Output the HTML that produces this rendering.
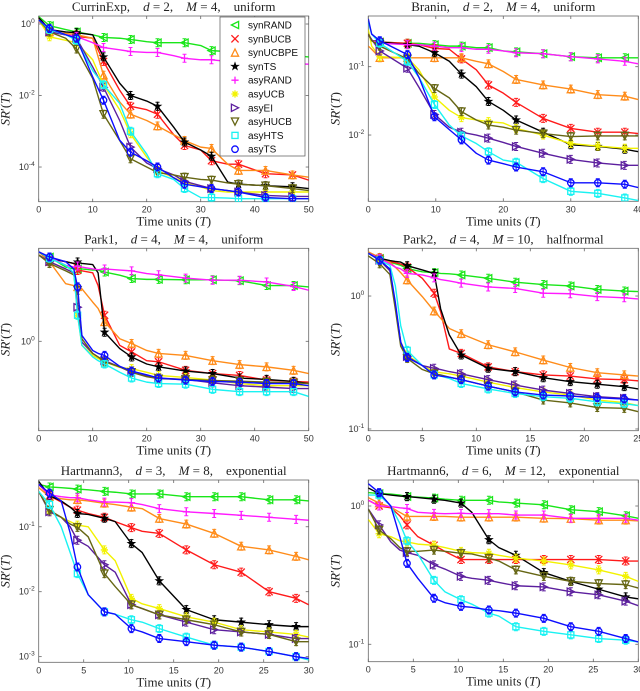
<!DOCTYPE html>
<html><head><meta charset="utf-8"><style>
html,body{margin:0;padding:0;background:#fff;width:640px;height:691px;overflow:hidden}
svg{display:block}
</style></head><body>
<svg id="fig" width="640" height="691" viewBox="0 0 640 691" xmlns="http://www.w3.org/2000/svg"></svg>
<script>
// ---------- Panel 1: CurrinExp ----------
const p1Times=[0,2,5,7,10,12,15,17,20,22,25,27,30,32,35,37,42,47,50];
const p1Marks=[2,7,12,17,22,27,32,37,42,47];
const p1synRAND=[1.6,0.9,0.7,0.6,0.5,0.42,0.4,0.37,0.32,0.3,0.3,0.3,0.25,0.18,0.17,0.16,0.14,0.13,0.12];
const p1synBUCB=[1.5,0.7,0.5,0.45,0.4,0.09,0.014,5e-3,4e-3,3e-3,8e-4,4e-4,3e-4,1.5e-4,1.2e-4,1.2e-4,6.5e-5,6e-5,4.3e-5];
const p1synUCBPE=[1.4,0.6,0.55,0.5,0.4,0.037,6.6e-3,3e-3,2e-3,1.4e-3,8e-4,5.5e-4,3.6e-4,3.3e-4,1.2e-4,8e-5,8e-5,6e-5,5.2e-5];
const p1synTS=[1.5,0.7,0.6,0.57,0.5,0.12,0.022,0.01,7e-3,5e-3,1.3e-3,5e-4,3e-4,2e-4,3.8e-5,3.3e-5,3e-5,2.8e-5,2.5e-5];
const p1asyRAND=[1.2,0.6,0.5,0.45,0.3,0.22,0.19,0.17,0.16,0.16,0.13,0.11,0.1,0.1,0.09,0.085,0.08,0.078,0.075];
const p1asyUCB=[1.3,0.44,0.35,0.3,0.1,0.02,4e-3,8.5e-4,1.9e-4,8e-5,5e-5,3.8e-5,2.8e-5,2.2e-5,2e-5,2e-5,2e-5,2e-5,2e-5];
const p1asyEI=[1.3,0.6,0.5,0.4,0.063,0.017,2e-3,3.6e-4,1.3e-4,9e-5,6e-5,4e-5,3e-5,2.5e-5,2.2e-5,2e-5,1.6e-5,1.5e-5,1.5e-5];
const p1asyHUCB=[1.3,0.6,0.4,0.2,0.03,3e-3,5.5e-4,1.7e-4,1e-4,7e-5,6e-5,5.2e-5,4.5e-5,4.3e-5,3.6e-5,3.3e-5,3e-5,2.5e-5,2.2e-5];
const p1asyHTS=[1.3,0.7,0.5,0.35,0.05,0.02,6e-3,1e-3,2.3e-4,6.5e-5,4.5e-5,2.5e-5,1.4e-5,1.4e-5,1.35e-5,1.3e-5,1.3e-5,1.3e-5,1.3e-5];
const p1asyTS=[1.3,0.75,0.5,0.4,0.033,7.4e-3,5.6e-4,2.6e-4,1.5e-4,1e-4,5e-5,3.3e-5,2.8e-5,2.5e-5,2.2e-5,2e-5,1.4e-5,1.3e-5,1.3e-5];
// ---------- Panel 2: Branin ----------
const p2Times=[0,0.5,1.7,5.8,7.5,9.8,12,13.8,16,17.8,20,21.9,25.9,30,34,38,40];
const p2Marks=[1.7,5.8,9.8,13.8,17.8,21.9,25.9,30,34,38];
const p2synRAND=[0.3,0.24,0.23,0.22,0.22,0.21,0.2,0.2,0.19,0.19,0.17,0.165,0.155,0.14,0.135,0.135,0.135];
const p2synBUCB=[0.3,0.24,0.23,0.22,0.21,0.185,0.18,0.13,0.09,0.054,0.041,0.03,0.0175,0.0125,0.011,0.011,0.0105];
const p2synUCBPE=[0.2,0.18,0.135,0.135,0.135,0.135,0.135,0.135,0.12,0.11,0.085,0.065,0.054,0.047,0.039,0.037,0.033];
const p2synTS=[0.3,0.24,0.23,0.21,0.2,0.16,0.12,0.078,0.051,0.031,0.023,0.0166,0.011,0.0072,0.0068,0.0062,0.0057];
const p2asyRAND=[0.3,0.24,0.22,0.21,0.21,0.2,0.19,0.19,0.18,0.18,0.17,0.16,0.155,0.14,0.13,0.12,0.11];
const p2asyUCB=[0.35,0.2,0.14,0.135,0.09,0.036,0.023,0.018,0.0166,0.0157,0.015,0.0125,0.01,0.0075,0.0069,0.0064,0.0064];
const p2asyEI=[0.3,0.25,0.17,0.095,0.05,0.02,0.013,0.011,0.01,0.009,0.0078,0.0068,0.0054,0.0044,0.0039,0.0036,0.0036];
const p2asyHUCB=[0.3,0.24,0.2,0.13,0.08,0.048,0.035,0.022,0.0166,0.014,0.013,0.0118,0.0105,0.0095,0.0097,0.0097,0.0097];
const p2asyTS=[0.5,0.3,0.24,0.15,0.07,0.0185,0.012,0.0085,0.0054,0.0043,0.0038,0.0034,0.0029,0.002,0.002,0.0019,0.0017];
const p2asyHTS=[0.45,0.3,0.22,0.12,0.07,0.028,0.014,0.0097,0.0075,0.0057,0.0043,0.004,0.0023,0.0015,0.0014,0.0012,0.0011];
// ---------- Panel 3: Park1 ----------
const p3Times=[0,2,5,6.5,7.2,8,10,11,12.2,15,17.2,20,22.2,27.2,32.2,37.2,42.2,47.2,50];
const p3Marks=[2,7.2,12.2,17.2,22.2,27.2,32.2,37.2,42.2,47.2];
const p3synRAND=[2.8,2.64,2.35,2.3,2.3,2.3,2.27,2.27,2.22,2.14,2.06,2.04,2.04,2.03,2.03,2.01,1.9,1.9,1.87];
const p3synBUCB=[2.8,2.6,2.5,2.45,2.26,2.25,2.2,1.9,1.35,0.955,0.885,0.8,0.79,0.716,0.69,0.675,0.64,0.63,0.625];
const p3synUCBPE=[2.8,2.5,1.94,1.9,1.87,1.83,1.57,1.46,1.25,1.03,0.975,0.9,0.87,0.85,0.8,0.765,0.745,0.716,0.69];
const p3synTS=[2.8,2.6,2.5,2.45,2.49,2.45,2.42,2.2,1.11,0.92,0.835,0.77,0.745,0.71,0.69,0.655,0.645,0.63,0.615];
const p3asyRAND=[2.8,2.64,2.4,2.35,2.38,2.35,2.3,2.28,2.3,2.27,2.25,2.18,2.15,2.07,2.02,2.02,1.98,1.88,1.8];
const p3asyUCB=[2.7,2.5,2.3,2.2,1.35,0.955,0.85,0.82,0.79,0.74,0.73,0.7,0.675,0.66,0.64,0.615,0.6,0.6,0.6];
const p3asyEI=[2.7,2.5,2.3,2.2,1.48,0.99,0.87,0.835,0.8,0.745,0.7,0.67,0.655,0.645,0.62,0.6,0.59,0.58,0.58];
const p3asyHUCB=[2.7,2.45,2.25,2.15,1.8,1.03,0.87,0.835,0.79,0.745,0.7,0.665,0.65,0.645,0.637,0.632,0.625,0.62,0.615];
const p3asyHTS=[2.8,2.6,2.4,2.2,1.35,0.955,0.835,0.8,0.77,0.7,0.655,0.625,0.615,0.61,0.575,0.56,0.56,0.56,0.53];
const p3asyTS=[2.8,2.64,2.5,2.3,1.87,1.07,0.9,0.87,0.85,0.75,0.71,0.68,0.655,0.64,0.63,0.625,0.615,0.615,0.6];
// ---------- Panel 4: Park2 ----------
const p4Times=[0,1.05,2,2.5,3,3.6,5,6.1,6.7,7.5,8.6,11.1,13.6,16.2,18.7,21.2,23.7,25];
const p4Marks=[1.05,3.6,6.1,8.6,11.1,13.6,16.2,18.7,21.2,23.7];
const p4synRAND=[2.1,1.92,1.8,1.75,1.7,1.61,1.52,1.5,1.48,1.47,1.44,1.36,1.27,1.22,1.19,1.12,1.09,1.08];
const p4synBUCB=[2.1,1.92,1.82,1.78,1.74,1.65,1.36,1.05,0.76,0.4,0.37,0.293,0.27,0.255,0.25,0.238,0.235,0.23];
const p4synUCBPE=[2.15,1.95,1.8,1.65,1.5,1.32,0.99,0.77,0.68,0.57,0.52,0.43,0.38,0.33,0.29,0.265,0.255,0.25];
const p4synTS=[2.1,1.92,1.85,1.82,1.8,1.69,1.57,1.48,0.8,0.51,0.36,0.286,0.27,0.243,0.227,0.217,0.208,0.2];
const p4asyRAND=[2.1,1.92,1.75,1.65,1.6,1.48,1.44,1.37,1.33,1.3,1.25,1.17,1.14,1.05,1.04,0.99,0.97,0.95];
const p4asyUCB=[2.1,1.86,1.55,0.85,0.45,0.36,0.3,0.27,0.265,0.26,0.25,0.225,0.205,0.19,0.18,0.165,0.158,0.15];
const p4asyEI=[2.1,1.86,1.55,0.85,0.45,0.35,0.3,0.286,0.28,0.27,0.26,0.235,0.214,0.196,0.185,0.175,0.17,0.165];
const p4asyHUCB=[2.0,1.75,1.45,0.8,0.42,0.34,0.28,0.26,0.255,0.245,0.235,0.21,0.19,0.165,0.157,0.145,0.143,0.135];
const p4asyHTS=[2.1,1.86,1.7,1.2,0.6,0.39,0.3,0.255,0.25,0.24,0.22,0.2,0.185,0.175,0.17,0.16,0.155,0.15];
const p4asyTS=[2.1,1.86,1.6,0.9,0.45,0.345,0.3,0.255,0.25,0.245,0.235,0.21,0.19,0.18,0.177,0.172,0.168,0.165];
// ---------- Panel 5: Hartmann3 ----------
const p5Times=[0,1.2,2.5,3.5,4.3,5.5,7.3,8.5,10.3,11.5,13.4,16.4,19.5,22.5,25.6,28.6,30];
const p5Marks=[1.2,4.3,7.3,10.3,13.4,16.4,19.5,22.5,25.6,28.6];
const p5synRAND=[0.45,0.41,0.4,0.39,0.38,0.37,0.35,0.34,0.32,0.32,0.32,0.29,0.29,0.29,0.26,0.26,0.25];
const p5synBUCB=[0.45,0.3,0.24,0.2,0.18,0.16,0.14,0.12,0.097,0.085,0.079,0.044,0.026,0.02,0.01,0.0079,0.0063];
const p5synUCBPE=[0.4,0.29,0.27,0.26,0.26,0.25,0.23,0.22,0.2,0.19,0.134,0.11,0.079,0.05,0.044,0.035,0.031];
const p5synTS=[0.5,0.3,0.25,0.2,0.16,0.155,0.135,0.12,0.055,0.04,0.0147,0.0053,0.0037,0.0034,0.0031,0.0029,0.0029];
const p5asyRAND=[0.45,0.31,0.29,0.28,0.28,0.26,0.24,0.24,0.235,0.22,0.19,0.17,0.16,0.15,0.14,0.13,0.126];
const p5asyUCB=[0.35,0.17,0.14,0.12,0.106,0.1,0.044,0.03,0.0079,0.0065,0.0055,0.0041,0.0034,0.0026,0.0024,0.0022,0.002];
const p5asyEI=[0.35,0.17,0.14,0.1,0.062,0.05,0.026,0.02,0.0063,0.0055,0.0044,0.0034,0.0026,0.0024,0.0022,0.0019,0.0019];
const p5asyHUCB=[0.35,0.18,0.14,0.11,0.098,0.07,0.019,0.012,0.0063,0.0055,0.0044,0.0037,0.0031,0.0024,0.0022,0.0017,0.0017];
const p5asyHTS=[0.35,0.22,0.1,0.04,0.019,0.009,0.0049,0.0045,0.0037,0.0034,0.0027,0.002,0.0015,0.0014,0.0012,0.001,0.00089];
const p5asyTS=[0.45,0.33,0.25,0.08,0.024,0.009,0.0049,0.0045,0.0027,0.0024,0.0019,0.0017,0.0015,0.0014,0.0012,0.001,0.00094];
// ---------- Panel 6: Hartmann6 ----------
const p6Times=[0,1.2,2.5,3.5,4.3,5.5,7.3,8.5,10.3,11.5,13.4,14.5,16.4,19.5,22.5,25.6,28.6,30];
const p6Marks=[1.2,4.3,7.3,10.3,13.4,16.4,19.5,22.5,25.6,28.6];
const p6synRAND=[1.25,1.23,1.22,1.2,1.17,1.16,1.14,1.12,1.1,1.1,1.1,1.07,1.05,1.02,0.94,0.91,0.85,0.815];
const p6synBUCB=[1.1,1.0,0.97,0.85,0.73,0.6,0.52,0.47,0.41,0.41,0.41,0.41,0.41,0.41,0.41,0.41,0.4,0.4];
const p6synUCBPE=[1.15,1.05,0.98,0.9,0.84,0.84,0.84,0.84,0.83,0.83,0.83,0.83,0.83,0.815,0.81,0.79,0.79,0.78];
const p6synTS=[1.35,1.23,1.2,1.18,1.17,1.15,1.12,1.1,1.05,0.9,0.57,0.5,0.44,0.33,0.285,0.25,0.22,0.213];
const p6asyRAND=[1.1,1.0,0.99,0.97,0.96,0.9,0.885,0.88,0.885,0.88,0.88,0.88,0.86,0.86,0.815,0.815,0.815,0.79];
const p6asyUCB=[0.8,0.63,0.6,0.56,0.55,0.53,0.52,0.5,0.47,0.46,0.455,0.44,0.42,0.4,0.375,0.345,0.31,0.285];
const p6asyEI=[0.95,0.73,0.55,0.48,0.46,0.44,0.375,0.35,0.31,0.3,0.29,0.28,0.265,0.26,0.24,0.228,0.205,0.19];
const p6asyHUCB=[0.95,0.67,0.58,0.5,0.47,0.47,0.48,0.47,0.455,0.45,0.42,0.4,0.345,0.31,0.285,0.275,0.27,0.255];
const p6asyHTS=[1.2,1.2,1.0,0.75,0.56,0.45,0.29,0.24,0.21,0.195,0.168,0.16,0.134,0.124,0.117,0.11,0.107,0.104];
const p6asyTS=[1.45,1.25,1.0,0.6,0.385,0.3,0.215,0.2,0.188,0.185,0.177,0.175,0.168,0.154,0.134,0.124,0.11,0.104];

const seriesNames=['synRAND','synBUCB','synUCBPE','synTS','asyRAND','asyUCB','asyEI','asyHUCB','asyHTS','asyTS'];
const seriesColors=['#19e619','#ff1a1a','#ff8c1a','#000000','#ff1aff','#f2f200','#5c1f9e','#666614','#1af2f2','#0d0dff'];
const seriesMarkers=['ltri','x','utri','star','plus','aster','rtri','dtri','square','circle'];

const panels=[
 {id:'currinexp',title:['CurrinExp,','2','4','uniform'],L:38.7,R:308.7,T:16,B:201.7,xmax:50,xticks:[0,10,20,30,40,50],ymin:-4.97,ymax:0.224,yticks:[0,-2,-4],times:p1Times,marks:p1Marks,
  data:[p1synRAND,p1synBUCB,p1synUCBPE,p1synTS,p1asyRAND,p1asyUCB,p1asyEI,p1asyHUCB,p1asyHTS,p1asyTS],legend:true},
 {id:'branin',title:['Branin,','2','4','uniform'],L:368.3,R:638.3,T:16,B:201.3,xmax:40,xticks:[0,10,20,30,40],ymin:-2.97,ymax:-0.258,yticks:[-1,-2],times:p2Times,marks:p2Marks,
  data:[p2synRAND,p2synBUCB,p2synUCBPE,p2synTS,p2asyRAND,p2asyUCB,p2asyEI,p2asyHUCB,p2asyHTS,p2asyTS]},
 {id:'park1',title:['Park1,','4','4','uniform'],L:38.7,R:308.7,T:248.3,B:430.7,xmax:50,xticks:[0,10,20,30,40,50],ymin:-0.447,ymax:0.465,yticks:[0],times:p3Times,marks:p3Marks,
  data:[p3synRAND,p3synBUCB,p3synUCBPE,p3synTS,p3asyRAND,p3asyUCB,p3asyEI,p3asyHUCB,p3asyHTS,p3asyTS]},
 {id:'park2',title:['Park2,','4','10','halfnormal'],L:368.3,R:638.3,T:248.3,B:430.7,xmax:25,xticks:[0,5,10,15,20,25],ymin:-1.013,ymax:0.359,yticks:[0,-1],times:p4Times,marks:p4Marks,
  data:[p4synRAND,p4synBUCB,p4synUCBPE,p4synTS,p4asyRAND,p4asyUCB,p4asyEI,p4asyHUCB,p4asyHTS,p4asyTS]},
 {id:'hartmann3',title:['Hartmann3,','3','8','exponential'],L:38.7,R:308.7,T:480,B:662.3,xmax:30,xticks:[0,5,10,15,20,25,30],ymin:-3.087,ymax:-0.28,yticks:[-1,-2,-3],times:p5Times,marks:p5Marks,
  data:[p5synRAND,p5synBUCB,p5synUCBPE,p5synTS,p5asyRAND,p5asyUCB,p5asyEI,p5asyHUCB,p5asyHTS,p5asyTS]},
 {id:'hartmann6',title:['Hartmann6,','6','12','exponential'],L:368.3,R:638.3,T:480,B:661.7,xmax:30,xticks:[0,5,10,15,20,25,30],ymin:-1.126,ymax:0.188,yticks:[0,-1],times:p6Times,marks:p6Marks,
  data:[p6synRAND,p6synBUCB,p6synUCBPE,p6synTS,p6asyRAND,p6asyUCB,p6asyEI,p6asyHUCB,p6asyHTS,p6asyTS]}
];

const NS='http://www.w3.org/2000/svg';
const svg=document.getElementById('fig');
function mk(tag,attrs,parent){const e=document.createElementNS(NS,tag);for(const k in attrs)e.setAttribute(k,attrs[k]);(parent||svg).appendChild(e);return e;}

function marker(g,type,x,y,c){
  const s=3.6;let e;
  const st={stroke:c,'stroke-width':1.3,fill:'none'};
  if(type==='ltri')e=mk('polygon',Object.assign({points:`${x-s},${y} ${x+s},${y-s} ${x+s},${y+s}`},st),g);
  else if(type==='rtri')e=mk('polygon',Object.assign({points:`${x+s},${y} ${x-s},${y-s} ${x-s},${y+s}`},st),g);
  else if(type==='utri')e=mk('polygon',Object.assign({points:`${x},${y-s} ${x-s},${y+s} ${x+s},${y+s}`},st),g);
  else if(type==='dtri')e=mk('polygon',Object.assign({points:`${x},${y+s} ${x-s},${y-s} ${x+s},${y-s}`},st),g);
  else if(type==='square')e=mk('rect',Object.assign({x:x-s*0.85,y:y-s*0.85,width:s*1.7,height:s*1.7},st),g);
  else if(type==='circle')e=mk('circle',Object.assign({cx:x,cy:y,r:s*0.9},st),g);
  else if(type==='x')e=mk('path',Object.assign({d:`M${x-s} ${y-s}L${x+s} ${y+s}M${x-s} ${y+s}L${x+s} ${y-s}`},st),g);
  else if(type==='plus')e=mk('path',Object.assign({d:`M${x-s} ${y}L${x+s} ${y}M${x} ${y-s}L${x} ${y+s}`},st),g);
  else if(type==='aster')e=mk('path',Object.assign({d:`M${x-s} ${y}L${x+s} ${y}M${x} ${y-s}L${x} ${y+s}M${x-s*.7} ${y-s*.7}L${x+s*.7} ${y+s*.7}M${x-s*.7} ${y+s*.7}L${x+s*.7} ${y-s*.7}`},st),g);
  else if(type==='star'){let p=[];for(let i=0;i<10;i++){const r=i%2?s*0.45:s*1.15;const a=-Math.PI/2+i*Math.PI/5;p.push((x+r*Math.cos(a)).toFixed(2)+','+(y+r*Math.sin(a)).toFixed(2));}
    e=mk('polygon',{points:p.join(' '),fill:c,stroke:c,'stroke-width':0.6},g);}
  return e;
}

panels.forEach((P,pi)=>{
  const g=mk('g',{});
  
  
  const xs=t=>P.L+(t/P.xmax)*(P.R-P.L);
  const ys=v=>P.T+(P.ymax-Math.log10(v))/(P.ymax-P.ymin)*(P.B-P.T);
  const yl=l=>P.T+(P.ymax-l)/(P.ymax-P.ymin)*(P.B-P.T);
  const cx=(P.L+P.R)/2;
  // title
  const tt=mk('text',{x:cx,y:P.T-5,'text-anchor':'middle','font-family':'Liberation Serif, serif','font-size':13,fill:'#222'},g);
  
  
  tt.innerHTML=`${P.title[0]}\u2003<tspan font-style="italic">d</tspan> = ${P.title[1]},\u2003<tspan font-style="italic">M</tspan> = ${P.title[2]},\u2003${P.title[3]}`;
  // clip
  const cid='clip'+pi;
  const cp=mk('clipPath',{id:cid},g);mk('rect',{x:P.L,y:P.T,width:P.R-P.L,height:P.B-P.T},cp);
  // axes box
  const box=mk('rect',{x:P.L,y:P.T,width:P.R-P.L,height:P.B-P.T,fill:'#fff',stroke:'#666','stroke-width':0.8},g);
  
  
  // x ticks
  P.xticks.forEach(t=>{
    const x=xs(t);
    mk('line',{x1:x,x2:x,y1:P.B,y2:P.B-3,stroke:'#666','stroke-width':0.8},g);
    mk('line',{x1:x,x2:x,y1:P.T,y2:P.T+3,stroke:'#666','stroke-width':0.8},g);
    const lb=mk('text',{x:x,y:P.B+11,'text-anchor':'middle','font-family':'Liberation Sans, sans-serif','font-size':9,fill:'#333'},g);
    
    
    lb.textContent=t;
  });
  // y ticks
  P.yticks.forEach(l=>{
    const y=yl(l);
    mk('line',{x1:P.L,x2:P.L+3,y1:y,y2:y,stroke:'#666','stroke-width':0.8},g);
    mk('line',{x1:P.R,x2:P.R-3,y1:y,y2:y,stroke:'#666','stroke-width':0.8},g);
    const lb=mk('text',{x:P.L-4,y:y+3,'text-anchor':'end','font-family':'Liberation Sans, sans-serif','font-size':9,fill:'#333'},g);
    
    
    lb.innerHTML=`10<tspan dy="-4" font-size="6.5">${l}</tspan>`;
  });
  // x label
  const xl=mk('text',{x:cx,y:P.B+24,'text-anchor':'middle','font-family':'Liberation Serif, serif','font-size':13,fill:'#222'},g);
  
  
  xl.innerHTML='Time units (<tspan font-style="italic">T</tspan>)';
  // y label
  const yx=P.L-29, yy=(P.T+P.B)/2;
  const ylab=mk('text',{x:yx,y:yy,'text-anchor':'middle','font-family':'Liberation Serif, serif','font-size':13,fill:'#222',transform:`rotate(-90 ${yx} ${yy})`},g);
  
  
  ylab.innerHTML='<tspan font-style="italic">SR</tspan>\u2032(<tspan font-style="italic">T</tspan>)';
  // series
  const pg=mk('g',{'clip-path':`url(#${cid})`},g);
  P.data.forEach((vals,si)=>{
    const c=seriesColors[si];
    const sg=mk('g',{},pg);
    
    
    const pts=P.times.map((t,i)=>xs(t).toFixed(2)+','+ys(vals[i]).toFixed(2)).join(' ');
    const ln=mk('polyline',{points:pts,fill:'none',stroke:c,'stroke-width':1.4,'stroke-linejoin':'round'},sg);
    
    
    P.times.forEach((t,i)=>{
      if(P.marks.indexOf(t)<0)return;
      const x=xs(t),y=ys(vals[i]);
      mk('path',{d:`M${x} ${y-4}L${x} ${y+4}M${x-2} ${y-4}L${x+2} ${y-4}M${x-2} ${y+4}L${x+2} ${y+4}`,stroke:c,'stroke-width':1,fill:'none'},sg);
      const m=marker(sg,seriesMarkers[si],x,y,c);
      
      
    });
  });
  // legend
  if(P.legend){
    const lg=mk('g',{},g);
    
    
    mk('rect',{x:220,y:17,width:85,height:139,fill:'#fff',stroke:'#555','stroke-width':0.7},lg);
    seriesNames.forEach((n,si)=>{
      const y=25+si*13.8;
      const eg=mk('g',{},lg);
      
      
      marker(eg,seriesMarkers[si],235,y,seriesColors[si]);
      const tx=mk('text',{x:248,y:y+3.5,'font-family':'Liberation Sans, sans-serif','font-size':10,fill:'#111'},eg);
      tx.textContent=n;
    });
  }
});
</script>
</body></html>
